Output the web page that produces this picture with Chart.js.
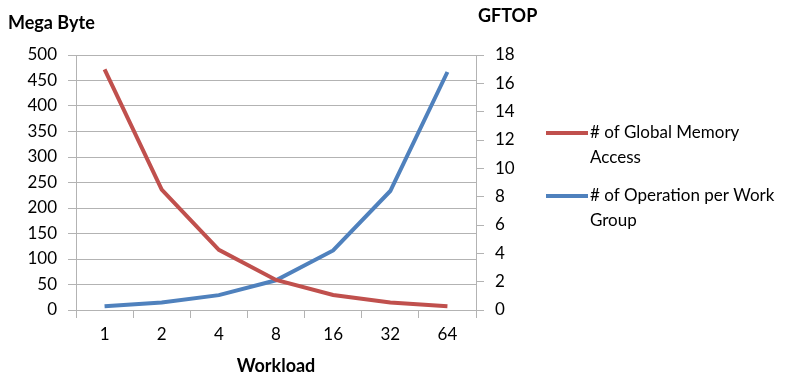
<!DOCTYPE html>
<html>
<head>
<meta charset="utf-8">
<script src="https://cdn.jsdelivr.net/npm/chart.js@4/dist/chart.umd.min.js"></script>
<style>
  html, body { margin: 0; padding: 0; background: #fff; }
  #wrap { position: relative; width: 803px; height: 376px; }
</style>
</head>
<body>
<div id="wrap"><canvas id="c" width="803" height="376"></canvas></div>
<script>
// Workload sizes along the x axis
const workloads = ['1', '2', '4', '8', '16', '32', '64'];
// Global memory traffic, in megabytes (left axis)
const globalMemoryMB = [472, 236, 118, 59, 29.5, 14.75, 7.4];
// Operations per work group, in GFTOP (right axis)
const opsPerGroup = [0.26, 0.525, 1.05, 2.1, 4.2, 8.4, 16.8];
// Legend captions, pre-wrapped
const memoryLegend = ['# of Global Memory', 'Access'];
const opsLegend = ['# of Operation per Work', 'Group'];

const RED = '#c0504d';
const BLUE = '#4f81bd';
const GRID = '#b3b3b3';
const FONT = 'Lato, "Open Sans", sans-serif';

// Horizontal axis titles and the wrapped legend on the right
const annotations = {
  id: 'annotations',
  afterDraw(chart) {
    const ctx = chart.ctx;
    const area = chart.chartArea;
    ctx.save();
    ctx.fillStyle = '#000';
    ctx.font = 'bold 18px ' + FONT;
    ctx.textBaseline = 'middle';
    ctx.textAlign = 'left';
    ctx.fillText('Mega Byte', 8, 23);
    ctx.fillText('GFTOP', 478, 16);
    ctx.textAlign = 'center';
    ctx.fillText('Workload', (area.left + area.right) / 2, 366);

    ctx.font = '17px ' + FONT;
    ctx.textAlign = 'left';
    const items = [
      { color: RED, lines: memoryLegend, y: 133 },
      { color: BLUE, lines: opsLegend, y: 196 }
    ];
    items.forEach(it => {
      ctx.strokeStyle = it.color;
      ctx.lineWidth = 4;
      ctx.beginPath();
      ctx.moveTo(546, it.y);
      ctx.lineTo(588, it.y);
      ctx.stroke();
      it.lines.forEach((t, i) => ctx.fillText(t, 590, it.y + i * 25));
    });
    ctx.restore();
  }
};

new Chart(document.getElementById('c'), {
  type: 'line',
  data: {
    labels: workloads,
    datasets: [
      {
        label: memoryLegend.join(' '),
        data: globalMemoryMB,
        borderColor: RED,
        backgroundColor: RED,
        borderWidth: 4,
        pointRadius: 0,
        tension: 0,
        yAxisID: 'y'
      },
      {
        label: opsLegend.join(' '),
        data: opsPerGroup,
        borderColor: BLUE,
        backgroundColor: BLUE,
        borderWidth: 4,
        pointRadius: 0,
        tension: 0,
        yAxisID: 'y1'
      }
    ]
  },
  options: {
    responsive: false,
    animation: false,
    devicePixelRatio: 1,
    layout: { padding: { top: 55, right: 267, left: 0, bottom: 0 } },
    plugins: { legend: { display: false }, tooltip: { enabled: false } },
    scales: {
      x: {
        offset: true,
        grid: { offset: true, drawOnChartArea: false, color: GRID, tickLength: 8 },
        border: { color: GRID },
        ticks: { color: '#000', font: { family: FONT, size: 17 }, padding: 6, maxRotation: 0 },
        afterFit(s) { s.height = 66; }
      },
      y: {
        position: 'left',
        min: 0, max: 500,
        grid: { color: GRID, tickLength: 8 },
        border: { color: GRID },
        ticks: { stepSize: 50, color: '#000', font: { family: FONT, size: 17 }, padding: 11 },
        afterFit(s) { s.width = 76; }
      },
      y1: {
        position: 'right',
        min: 0, max: 18,
        grid: { drawOnChartArea: false, color: GRID, tickLength: 8 },
        border: { color: GRID },
        ticks: { stepSize: 2, color: '#000', font: { family: FONT, size: 17 }, padding: 11 },
        afterFit(s) { s.width = 60; }
      }
    }
  },
  plugins: [annotations]
});
</script>
</body>
</html>
